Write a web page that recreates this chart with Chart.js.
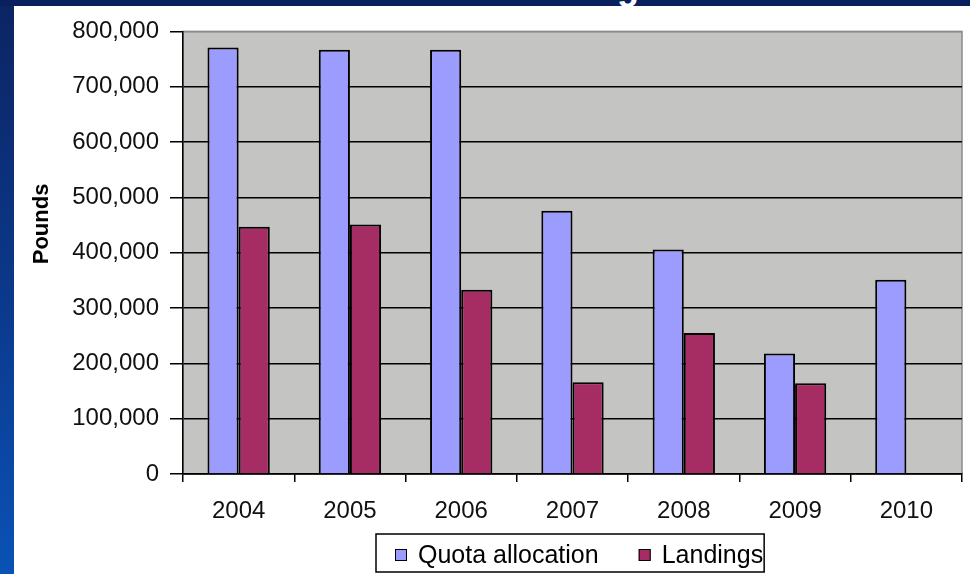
<!DOCTYPE html>
<html>
<head>
<meta charset="utf-8">
<script src="https://cdn.jsdelivr.net/npm/chart.js@4"></script>
<style>
  html, body { margin: 0; padding: 0; }
  body {
    width: 970px; height: 574px; overflow: hidden; position: relative;
    background: linear-gradient(180deg, #0c2462 0%, #0b3a8e 55%, #0a52b6 100%);
  }
  #topband { position: absolute; left: 0; top: 0; width: 970px; height: 6px; background: #0a1f5e; overflow: hidden; }
  #topband span { position: absolute; left: 617px; top: -34px; color: #fff; font: bold 36px "Liberation Sans", Arial, sans-serif; }
  #wrap { position: absolute; left: 14px; top: 6px; width: 956px; height: 568px; background: #fff; }
</style>
</head>
<body>
<div id="topband"><span>g</span></div>
<div id="wrap"><canvas id="chart"></canvas></div>
<script>
var years = ['2004', '2005', '2006', '2007', '2008', '2009', '2010'];
var quotaAllocation = [771000, 767000, 767000, 476000, 406000, 218000, 351000];
var landings = [447000, 451000, 333000, 166000, 255000, 164000, null];
var seriesNames = ['Quota allocation', 'Landings'];
var yTitle = 'Pounds';

var fontFamily = '"Liberation Sans", Arial, Helvetica, sans-serif';

// plot background, rotated y title and the boxed legend
var decor = {
  id: 'decor',
  beforeDraw: function(chart) {
    var ctx = chart.ctx, a = chart.chartArea;
    ctx.save();
    ctx.fillStyle = '#c4c4c2';
    ctx.fillRect(a.left, a.top, a.right - a.left, a.bottom - a.top);
    ctx.strokeStyle = '#8a8a8a';
    ctx.lineWidth = 1.5;
    ctx.strokeRect(a.left, a.top, a.right - a.left, a.bottom - a.top);
    ctx.restore();
  },
  afterDraw: function(chart) {
    var ctx = chart.ctx, a = chart.chartArea;
    ctx.save();
    ctx.translate(28, a.top + (a.bottom - a.top) * 0.435);
    ctx.rotate(-Math.PI / 2);
    ctx.font = 'bold 22px ' + fontFamily;
    ctx.fillStyle = '#000';
    ctx.textAlign = 'center';
    ctx.textBaseline = 'middle';
    ctx.fillText(yTitle, 0, 0);
    ctx.restore();

    ctx.save();
    ctx.font = '25px ' + fontFamily;
    ctx.textBaseline = 'alphabetic';
    var x = 381, base = 557, startX = x;
    chart.data.datasets.forEach(function(ds, i) {
      ctx.fillStyle = ds.backgroundColor;
      ctx.fillRect(x, base - 14, 12, 12);
      ctx.strokeStyle = '#000';
      ctx.lineWidth = 1;
      ctx.strokeRect(x + 0.5, base - 13.5, 11, 11);
      ctx.fillStyle = '#000';
      ctx.fillText(ds.label, x + 23, base);
      x = x + 23 + ctx.measureText(ds.label).width;
      if (i < chart.data.datasets.length - 1) x += 40;
    });
    ctx.strokeStyle = '#000';
    ctx.lineWidth = 1.5;
    ctx.strokeRect(startX - 19, 528, x + 1 - (startX - 19), 38);
    ctx.restore();
  }
};

var ctx = document.getElementById('chart').getContext('2d');
var chart = new Chart(ctx, {
  type: 'bar',
  data: {
    labels: years,
    datasets: [{
      label: seriesNames[0],
      data: quotaAllocation,
      backgroundColor: '#9c9cff',
      borderColor: '#000',
      borderWidth: 2
    }, {
      label: seriesNames[1],
      data: landings,
      backgroundColor: '#a52d63',
      borderColor: '#000',
      borderWidth: 2
    }]
  },
  options: {
    responsive: true,
    maintainAspectRatio: false,
    animation: false,
    layout: { padding: { top: 22, right: 8, bottom: 48, left: 0 } },
    datasets: { bar: { categoryPercentage: 0.56, barPercentage: 1.0 } },
    plugins: {
      legend: { display: false },
      tooltip: { enabled: false }
    },
    scales: {
      x: {
        afterFit: function(scale) { scale.height = 52; },
        grid: {
          offset: true,
          drawOnChartArea: false,
          drawTicks: true,
          tickLength: 8,
          color: '#000',
          lineWidth: 1.5
        },
        border: { display: true, color: '#000', width: 1.5 },
        ticks: {
          color: '#111',
          padding: 15,
          maxRotation: 0,
          font: { family: fontFamily, size: 24 }
        }
      },
      y: {
        min: 0,
        max: 800000,
        afterFit: function(scale) { scale.width = 169; },
        grid: {
          color: function(c) { return c.tick && c.tick.value === 800000 ? '#8a8a8a' : '#000'; },
          tickColor: '#000',
          tickLength: 13,
          lineWidth: 1.5
        },
        border: { display: true, color: '#000', width: 1.5 },
        ticks: {
          stepSize: 100000,
          color: '#111',
          padding: 11,
          font: { family: fontFamily, size: 24 },
          callback: function(v) { return Number(v).toLocaleString('en-US'); }
        }
      }
    }
  },
  plugins: [decor]
});
</script>
</body>
</html>
